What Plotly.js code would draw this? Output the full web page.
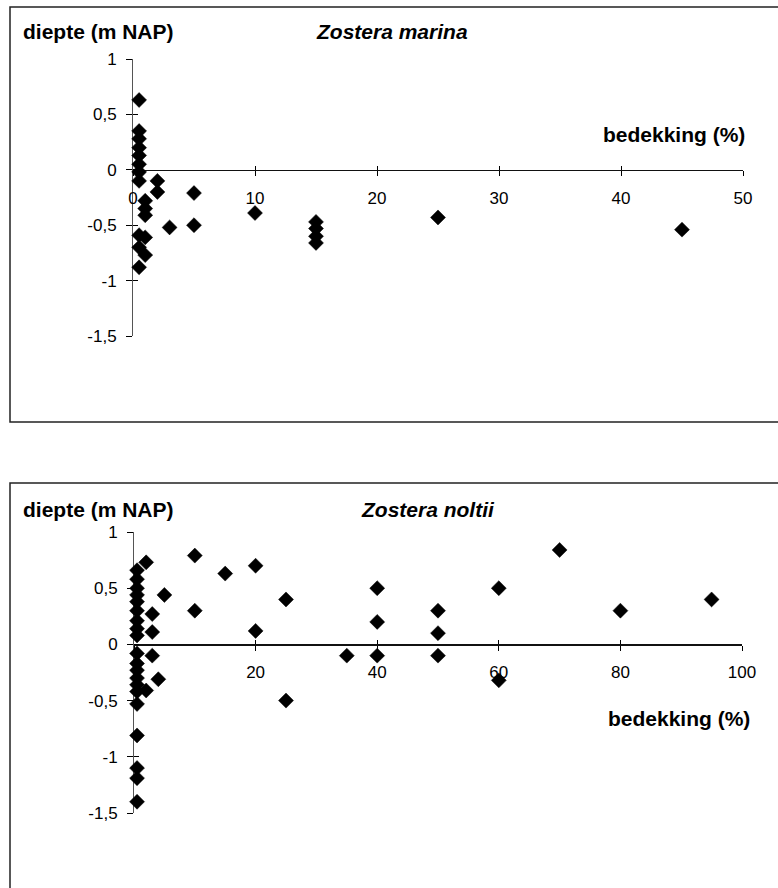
<!DOCTYPE html>
<html>
<head>
<meta charset="utf-8">
<script src="https://cdn.plot.ly/plotly-3.0.1.min.js"></script>
<style>
  html, body { margin: 0; padding: 0; background: #fff; }
  #chart { width: 778px; height: 888px; }
</style>
</head>
<body>
<div id="chart"></div>
<script>
// ---------- DATA ----------
// Zostera marina: bedekking (%) vs diepte (m NAP)
const marinaCover = [0.5, 0.5, 0.5, 0.5, 0.5, 0.5, 0.5, 0.5,
  2, 2, 1, 1, 1, 3, 0.5, 1, 0.5, 1, 0.5,
  5, 5, 10, 15, 15, 15, 15, 25, 45];
const marinaDepth = [0.63, 0.35, 0.28, 0.20, 0.13, 0.05, -0.02, -0.10,
  -0.10, -0.20, -0.28, -0.35, -0.41, -0.52, -0.59, -0.61, -0.70, -0.77, -0.88,
  -0.21, -0.50, -0.39, -0.47, -0.53, -0.60, -0.66, -0.43, -0.54];

// Zostera noltii: bedekking (%) vs diepte (m NAP)
const noltiiCover = [0.5, 0.5, 0.5, 0.5, 0.5, 0.5, 0.5, 0.5, 0.5, 0.5,
  0.5, 0.5, 0.5, 0.5, 0.5, 0.5, 0.5, 0.5, 0.5, 0.5,
  2, 10, 15, 20, 5, 10, 3, 25, 20, 3, 40, 40, 35, 40, 3, 4, 2, 25,
  70, 60, 50, 50, 50, 60, 80, 95];
const noltiiDepth = [0.66, 0.58, 0.50, 0.44, 0.38, 0.30, 0.21, 0.14, 0.08, -0.08,
  -0.17, -0.23, -0.30, -0.36, -0.42, -0.53, -0.81, -1.10, -1.19, -1.40,
  0.73, 0.79, 0.63, 0.70, 0.44, 0.30, 0.27, 0.40, 0.12, 0.11, 0.50, 0.20, -0.10, -0.10, -0.10, -0.31, -0.41, -0.50,
  0.84, 0.50, 0.30, 0.10, -0.10, -0.32, 0.30, 0.40];

// Tick labels
const yTickVals = [-1.5, -1, -0.5, 0, 0.5, 1];
const yTickText = ['-1,5', '-1', '-0,5', '0', '0,5', '1'];
const xTickValsTop = [0, 10, 20, 30, 40, 50];
const xTickTextTop = ['0', '10', '20', '30', '40', '50'];
const xTickValsBottom = [0, 20, 40, 60, 80, 100];
const xTickTextBottom = ['', '20', '40', '60', '80', '100'];

// Texts
const yTitle = 'diepte (m NAP)';
const xTitle = 'bedekking (%)';
const titleTop = 'Zostera marina';
const titleBottom = 'Zostera noltii';

// ---------- LAYOUT HELPERS ----------
const W = 778, H = 888;
const FONT = 'Liberation Sans, Arial, Helvetica, sans-serif';
const px = p => p / W;
const py = p => 1 - p / H;

const yRange = [-1.5, 1];
const topXDomain = [px(133), px(743)];
const topYDomain = [py(336), py(59)];
const botXDomain = [px(134), px(742)];
const botYDomain = [py(813), py(532)];

function zeroPos(dom, rng) {
  return dom[0] + (0 - rng[0]) / (rng[1] - rng[0]) * (dom[1] - dom[0]);
}

const marker = { symbol: 'diamond', size: 11.5, color: '#000', line: { width: 0.5, color: '#000' } };

const traces = [
  { type: 'scatter', mode: 'markers', x: marinaCover, y: marinaDepth,
    xaxis: 'x', yaxis: 'y', marker: marker, hoverinfo: 'none', cliponaxis: false },
  { type: 'scatter', mode: 'markers', x: noltiiCover, y: noltiiDepth,
    xaxis: 'x2', yaxis: 'y2', marker: marker, hoverinfo: 'none', cliponaxis: false },
  { type: 'scatter', mode: 'markers', x: [], y: [], xaxis: 'x3', yaxis: 'y3', hoverinfo: 'none' },
  { type: 'scatter', mode: 'markers', x: [], y: [], xaxis: 'x4', yaxis: 'y4', hoverinfo: 'none' }
];

const tickFont = { family: FONT, size: 17, color: '#000' };

function xAxis(dom, rng, yDom, vals, text, opts) {
  return Object.assign({
    domain: dom, range: rng, anchor: 'free', position: zeroPos(yDom, yRange),
    tickmode: 'array', tickvals: vals, ticktext: text,
    ticks: 'outside', ticklen: 5, tickwidth: 1, tickcolor: '#000',
    showline: true, linecolor: '#111', linewidth: 1.3,
    showgrid: false, zeroline: false, tickfont: tickFont,
    ticklabelstandoff: 7, layer: 'below traces', fixedrange: true
  }, opts || {});
}
function yAxis(dom, anchor, opts) {
  return Object.assign({
    domain: dom, range: yRange, anchor: anchor,
    tickmode: 'array', tickvals: yTickVals, ticktext: yTickText,
    ticks: 'outside', ticklen: 6, tickwidth: 1, tickcolor: '#000',
    showline: true, linecolor: '#555', linewidth: 1,
    showgrid: false, zeroline: false, tickfont: tickFont,
    ticklabelstandoff: 6, layer: 'below traces', fixedrange: true
  }, opts || {});
}

const overlayX = { ticks: 'inside', ticklen: 4, showticklabels: false, showline: false };
const overlayY = { ticks: 'inside', ticklen: 5, showticklabels: false, showline: false };

const titleFont = { family: FONT, size: 21, color: '#000' };

const layout = {
  width: W, height: H,
  margin: { l: 0, r: 0, t: 0, b: 0 },
  paper_bgcolor: '#fff', plot_bgcolor: 'rgba(0,0,0,0)',
  showlegend: false,
  font: { family: FONT, color: '#000' },
  xaxis: xAxis(topXDomain, [0, 50], topYDomain, xTickValsTop, xTickTextTop),
  yaxis: yAxis(topYDomain, 'x'),
  xaxis2: xAxis(botXDomain, [0, 100], botYDomain, xTickValsBottom, xTickTextBottom),
  yaxis2: yAxis(botYDomain, 'x2'),
  xaxis3: Object.assign(xAxis(topXDomain, [0, 50], topYDomain, xTickValsTop, xTickTextTop), overlayX, { overlaying: 'x' }),
  yaxis3: Object.assign(yAxis(topYDomain, 'x3'), overlayY, { overlaying: 'y' }),
  xaxis4: Object.assign(xAxis(botXDomain, [0, 100], botYDomain, xTickValsBottom, xTickTextBottom), overlayX, { overlaying: 'x2' }),
  yaxis4: Object.assign(yAxis(botYDomain, 'x4'), overlayY, { overlaying: 'y2' }),
  shapes: [
    { type: 'rect', xref: 'paper', yref: 'paper', x0: px(10), x1: px(800), y0: py(422), y1: py(7),
      line: { color: '#222', width: 1.5 }, fillcolor: 'rgba(0,0,0,0)', layer: 'below' },
    { type: 'rect', xref: 'paper', yref: 'paper', x0: px(10), x1: px(800), y0: py(910), y1: py(483),
      line: { color: '#222', width: 1.5 }, fillcolor: 'rgba(0,0,0,0)', layer: 'below' }
  ],
  annotations: [
    { xref: 'paper', yref: 'paper', x: px(21), y: py(32), xanchor: 'left', yanchor: 'middle',
      text: '<b>' + yTitle + '</b>', showarrow: false, font: titleFont },
    { xref: 'paper', yref: 'paper', x: px(314), y: py(32), xanchor: 'left', yanchor: 'middle',
      text: '<b><i>' + titleTop + '</i></b>', showarrow: false, font: titleFont },
    { xref: 'paper', yref: 'paper', x: px(747), y: py(134), xanchor: 'right', yanchor: 'middle',
      text: '<b>' + xTitle + '</b>', showarrow: false, font: titleFont },
    { xref: 'paper', yref: 'paper', x: px(21), y: py(509), xanchor: 'left', yanchor: 'middle',
      text: '<b>' + yTitle + '</b>', showarrow: false, font: titleFont },
    { xref: 'paper', yref: 'paper', x: px(359), y: py(509), xanchor: 'left', yanchor: 'middle',
      text: '<b><i>' + titleBottom + '</i></b>', showarrow: false, font: titleFont },
    { xref: 'paper', yref: 'paper', x: px(752), y: py(718), xanchor: 'right', yanchor: 'middle',
      text: '<b>' + xTitle + '</b>', showarrow: false, font: titleFont }
  ]
};

Plotly.newPlot('chart', traces, layout, { staticPlot: true, displayModeBar: false });
</script>
</body>
</html>
